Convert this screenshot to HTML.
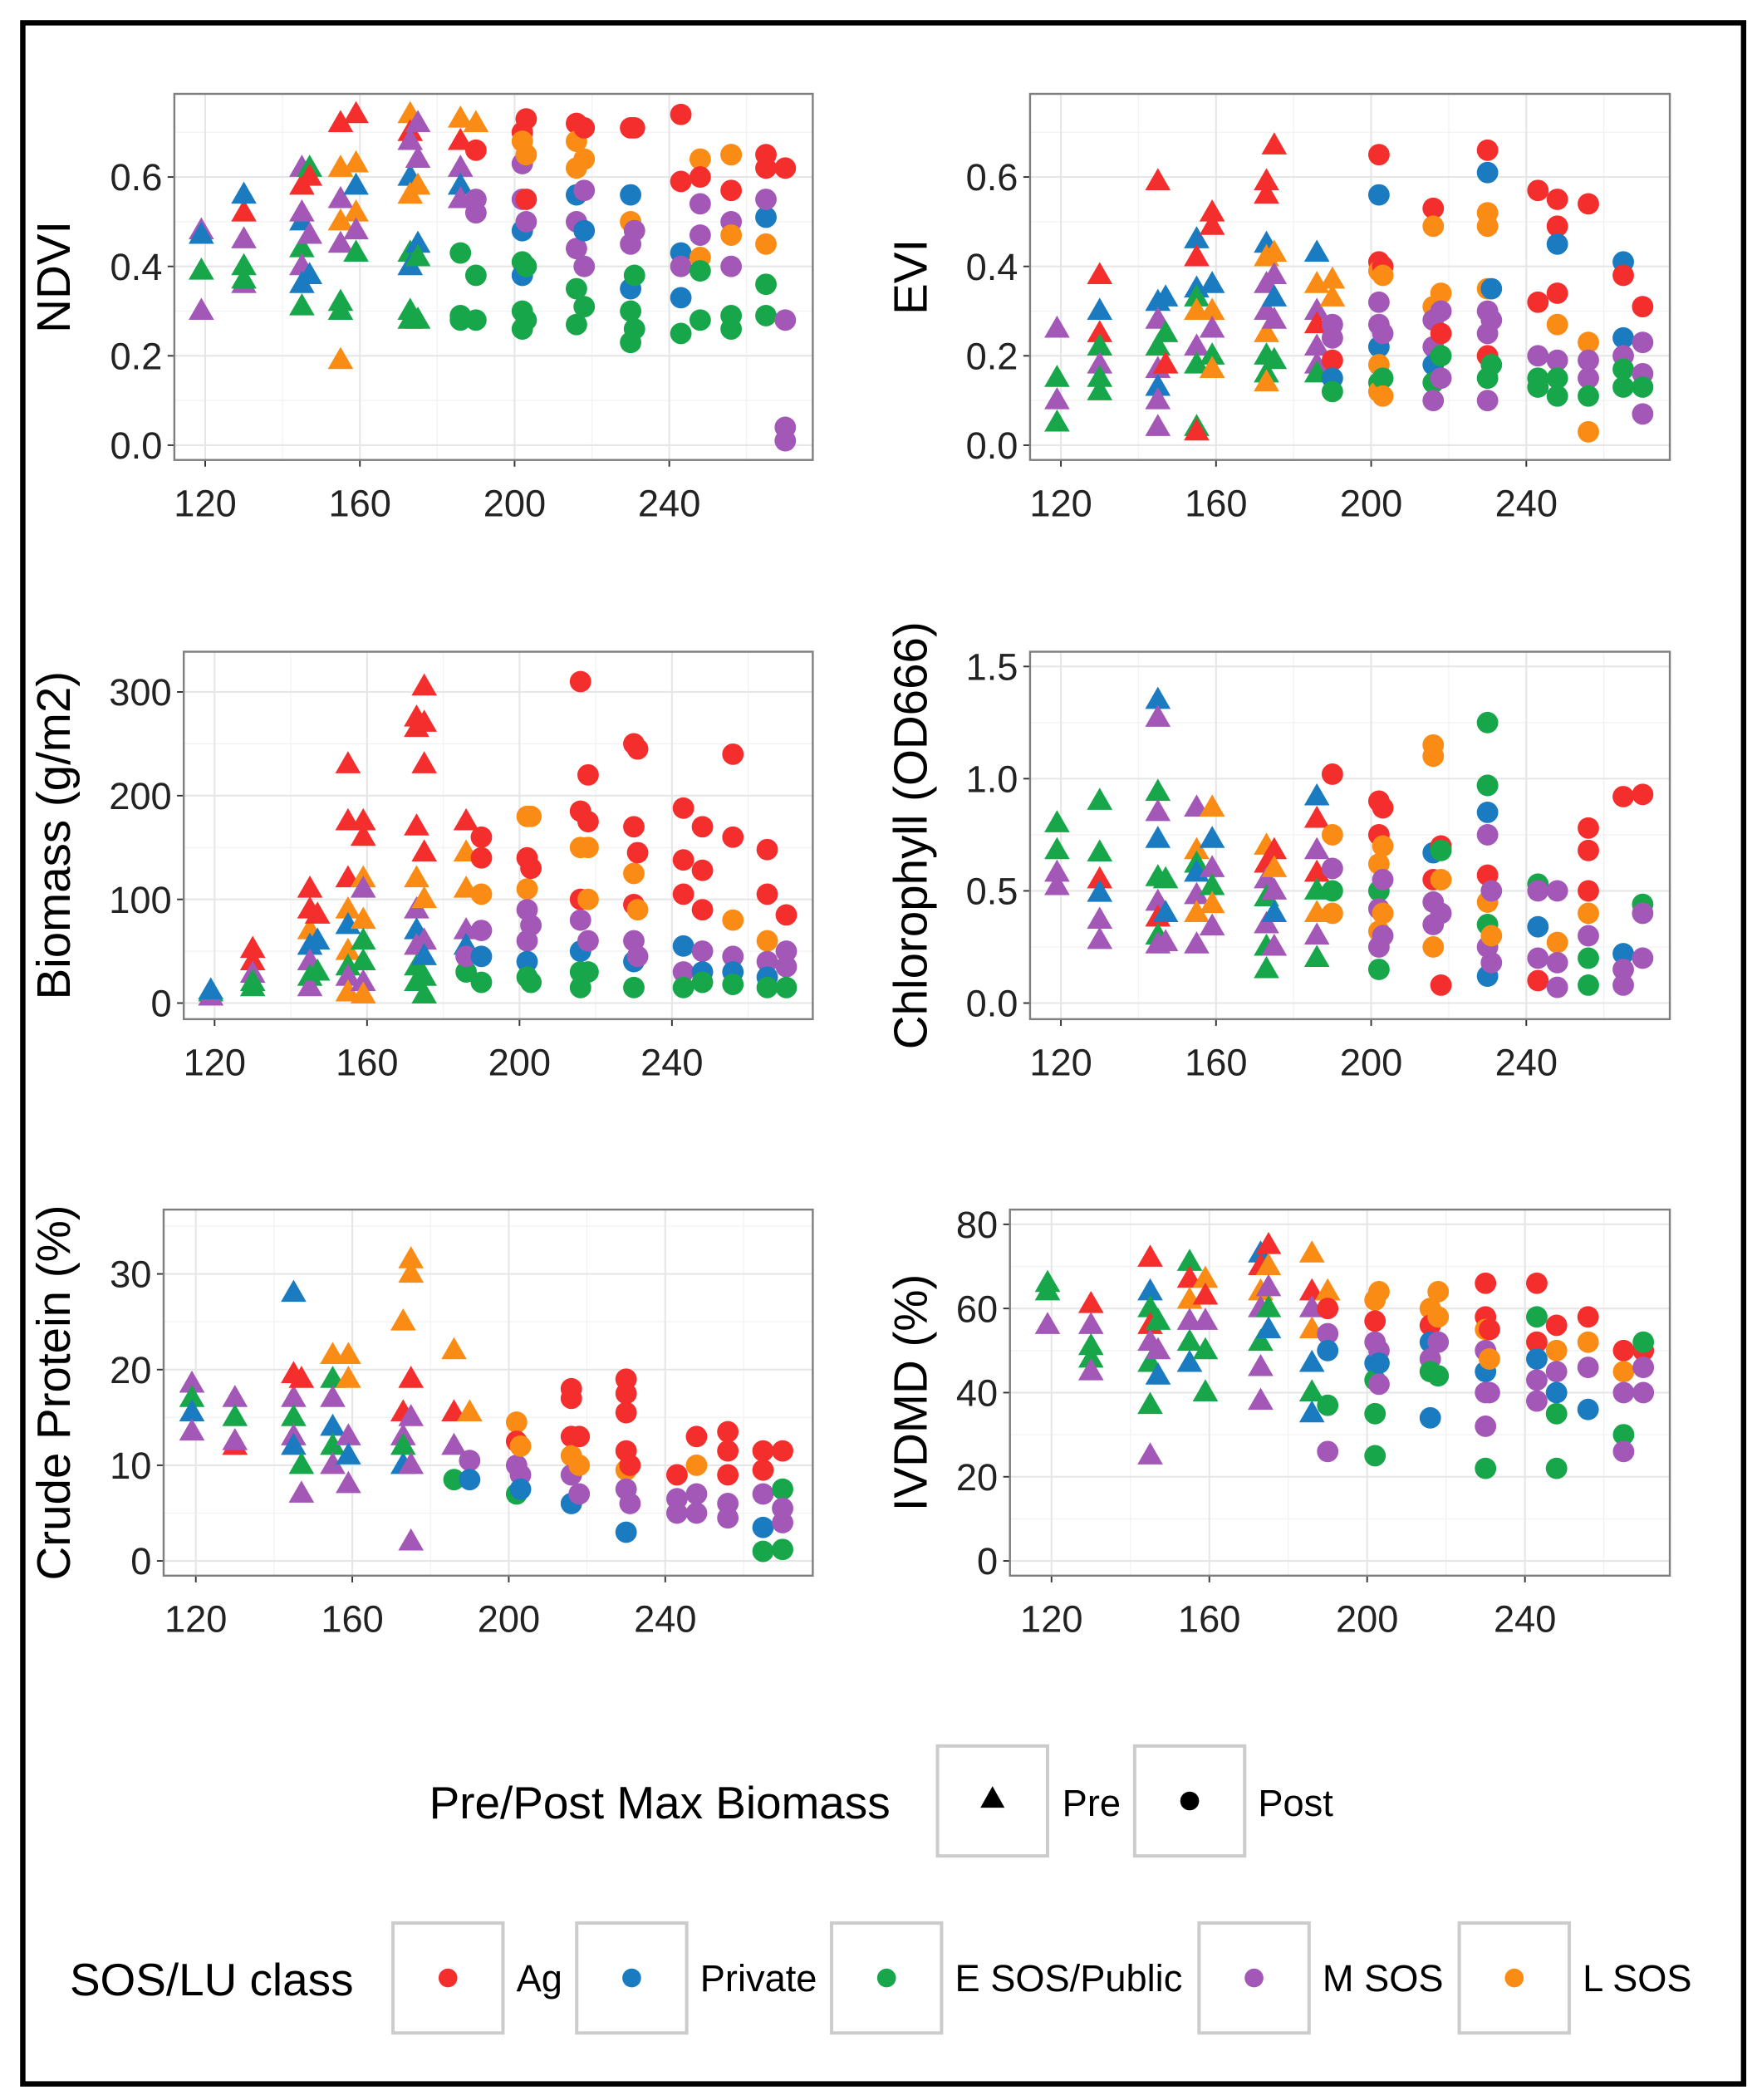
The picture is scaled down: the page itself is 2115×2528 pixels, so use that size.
<!DOCTYPE html>
<html><head><meta charset="utf-8"><style>
html,body{margin:0;padding:0;background:#fff}
svg{display:block}
text{font-family:"Liberation Sans",sans-serif}
</style></head><body>
<svg id="fig" width="2115" height="2528" viewBox="0 0 1310 1566" preserveAspectRatio="none" xmlns="http://www.w3.org/2000/svg">
<rect x="17" y="17" width="1283" height="1537" fill="#fff" stroke="#000" stroke-width="4"/>
<g id="panels"></g>
<g>
<text x="320" y="1356" font-size="34" fill="#000">Pre/Post Max Biomass</text>
<rect x="699" y="1302" width="82" height="82" fill="#fff" stroke="#ccc" stroke-width="2.5"/>
<polygon points="740,1332 749,1348 731,1348" fill="#000"/>
<text x="792" y="1354" font-size="28" fill="#000">Pre</text>
<rect x="846" y="1302" width="82" height="82" fill="#fff" stroke="#ccc" stroke-width="2.5"/>
<circle cx="887" cy="1343" r="7" fill="#000"/>
<text x="938" y="1354" font-size="28" fill="#000">Post</text>
</g>
<g id="classLegend">
<text x="52" y="1488" font-size="34" fill="#000">SOS/LU class</text>
</g>
</svg>
<script>
const classCodes=['r','b','g','m','o'];
const classColors=['#f42d2d','#1b7bc1','#18a64b','#a357b7','#fa8c15'];
const classLabels=['Ag','Private','E SOS/Public','M SOS','L SOS'];
const classBoxX=[293,430,620,894,1088];
const xTicks=[120,160,200,240];
const xTickLabels=['120','160','200','240'];

const ndviPts=[[119,.48,'m','T'],[119,.47,'b','T'],[119,.39,'g','T'],[119,.30,'m','T'],
[130,.52,'r','T'],[130,.56,'b','T'],[130,.46,'m','T'],[130,.40,'g','T'],[130,.36,'m','T'],[130,.37,'g','T'],
[145,.62,'m','T'],[145,.58,'r','T'],[145,.50,'b','T'],[145,.44,'g','T'],[145,.40,'m','T'],[145,.36,'b','T'],[145,.31,'g','T'],[145,.52,'m','T'],
[147,.62,'g','T'],[147,.60,'r','T'],[147,.47,'m','T'],[147,.38,'b','T'],
[155,.72,'r','T'],[155,.62,'o','T'],[155,.55,'m','T'],[155,.50,'o','T'],[155,.32,'g','T'],[155,.30,'g','T'],[155,.19,'o','T'],[155,.45,'m','T'],
[159,.74,'r','T'],[159,.63,'o','T'],[159,.58,'b','T'],[159,.52,'o','T'],[159,.43,'g','T'],[159,.48,'m','T'],
[173,.74,'o','T'],[173,.70,'r','T'],[173,.68,'m','T'],[173,.60,'b','T'],[173,.56,'o','T'],[173,.43,'g','T'],[173,.30,'g','T'],[173,.28,'g','T'],[173,.40,'b','T'],
[175,.72,'m','T'],[175,.64,'m','T'],[175,.58,'o','T'],[175,.45,'b','T'],[175,.42,'g','T'],[175,.28,'g','T'],
[186,.73,'o','T'],[186,.68,'r','T'],[186,.62,'m','T'],[186,.58,'b','T'],[186,.55,'m','T'],[186,.43,'g','C'],[186,.29,'g','C'],[186,.28,'g','C'],
[190,.72,'o','T'],[190,.66,'r','C'],[190,.55,'m','C'],[190,.52,'m','C'],[190,.38,'g','C'],[190,.28,'g','C'],
[202,.70,'r','C'],[202,.68,'o','C'],[202,.63,'m','C'],[202,.55,'m','C'],[202,.48,'b','C'],[202,.41,'g','C'],[202,.38,'b','C'],[202,.30,'g','C'],[202,.26,'g','C'],
[203,.73,'r','C'],[203,.65,'o','C'],[203,.55,'r','C'],[203,.50,'m','C'],[203,.40,'g','C'],[203,.28,'g','C'],
[216,.72,'r','C'],[216,.68,'o','C'],[216,.62,'o','C'],[216,.56,'b','C'],[216,.50,'m','C'],[216,.44,'m','C'],[216,.35,'g','C'],[216,.27,'g','C'],
[218,.71,'r','C'],[218,.64,'o','C'],[218,.57,'m','C'],[218,.48,'b','C'],[218,.40,'m','C'],[218,.31,'g','C'],
[230,.71,'r','C'],[230,.56,'b','C'],[230,.50,'o','C'],[230,.45,'m','C'],[230,.35,'b','C'],[230,.30,'g','C'],[230,.23,'g','C'],
[231,.71,'r','C'],[231,.48,'m','C'],[231,.38,'g','C'],[231,.26,'g','C'],
[243,.74,'r','C'],[243,.59,'r','C'],[243,.43,'b','C'],[243,.40,'m','C'],[243,.33,'b','C'],[243,.25,'g','C'],
[248,.64,'o','C'],[248,.60,'r','C'],[248,.54,'m','C'],[248,.47,'m','C'],[248,.42,'o','C'],[248,.39,'g','C'],[248,.28,'g','C'],
[256,.65,'r','C'],[256,.65,'o','C'],[256,.57,'r','C'],[256,.50,'m','C'],[256,.47,'o','C'],[256,.40,'m','C'],[256,.29,'g','C'],[256,.26,'g','C'],
[265,.65,'r','C'],[265,.62,'r','C'],[265,.51,'b','C'],[265,.55,'m','C'],[265,.45,'o','C'],[265,.36,'g','C'],[265,.29,'g','C'],
[270,.62,'r','C'],[270,.28,'m','C'],[270,.04,'m','C'],[270,.01,'m','C']];

const eviPts=[[119,.26,'m','T'],[119,.15,'g','T'],[119,.10,'m','T'],[119,.05,'g','T'],
[130,.38,'r','T'],[130,.30,'b','T'],[130,.25,'r','T'],[130,.22,'g','T'],[130,.18,'m','T'],[130,.15,'g','T'],[130,.12,'g','T'],
[145,.59,'r','T'],[145,.32,'b','T'],[145,.28,'m','T'],[145,.22,'g','T'],[145,.17,'m','T'],[145,.13,'b','T'],[145,.10,'m','T'],[145,.04,'m','T'],
[147,.33,'b','T'],[147,.25,'g','T'],[147,.18,'r','T'],
[155,.46,'b','T'],[155,.42,'r','T'],[155,.35,'b','T'],[155,.33,'g','T'],[155,.30,'o','T'],[155,.22,'m','T'],[155,.18,'g','T'],[155,.04,'g','T'],[155,.03,'r','T'],
[159,.52,'r','T'],[159,.49,'r','T'],[159,.36,'b','T'],[159,.30,'o','T'],[159,.26,'m','T'],[159,.20,'g','T'],[159,.17,'o','T'],
[173,.59,'r','T'],[173,.56,'r','T'],[173,.45,'b','T'],[173,.42,'o','T'],[173,.36,'m','T'],[173,.30,'m','T'],[173,.25,'o','T'],[173,.20,'g','T'],[173,.16,'g','T'],[173,.14,'o','T'],
[175,.67,'r','T'],[175,.43,'o','T'],[175,.38,'m','T'],[175,.33,'b','T'],[175,.28,'m','T'],[175,.19,'g','T'],
[186,.43,'b','T'],[186,.36,'o','T'],[186,.30,'m','T'],[186,.27,'r','T'],[186,.22,'m','T'],[186,.18,'m','T'],[186,.16,'g','T'],
[190,.37,'o','T'],[190,.33,'o','T'],[190,.27,'m','C'],[190,.24,'m','C'],[190,.19,'r','C'],[190,.15,'b','C'],[190,.12,'g','C'],
[202,.65,'r','C'],[202,.56,'b','C'],[202,.41,'r','C'],[202,.39,'o','C'],[202,.32,'m','C'],[202,.27,'m','C'],[202,.22,'b','C'],[202,.18,'o','C'],[202,.14,'g','C'],[202,.12,'o','C'],
[203,.40,'r','C'],[203,.38,'o','C'],[203,.25,'m','C'],[203,.15,'g','C'],[203,.11,'o','C'],
[216,.53,'r','C'],[216,.49,'o','C'],[216,.31,'o','C'],[216,.28,'m','C'],[216,.22,'m','C'],[216,.18,'b','C'],[216,.14,'g','C'],[216,.10,'m','C'],
[218,.34,'o','C'],[218,.30,'m','C'],[218,.25,'r','C'],[218,.20,'g','C'],[218,.15,'m','C'],
[230,.66,'r','C'],[230,.61,'b','C'],[230,.52,'o','C'],[230,.49,'o','C'],[230,.35,'o','C'],[230,.30,'m','C'],[230,.25,'m','C'],[230,.20,'r','C'],[230,.15,'g','C'],[230,.10,'m','C'],
[231,.35,'b','C'],[231,.28,'m','C'],[231,.18,'g','C'],
[243,.57,'r','C'],[243,.32,'r','C'],[243,.20,'m','C'],[243,.15,'g','C'],[243,.13,'g','C'],
[248,.55,'r','C'],[248,.49,'r','C'],[248,.45,'b','C'],[248,.34,'r','C'],[248,.27,'o','C'],[248,.19,'m','C'],[248,.15,'g','C'],[248,.11,'g','C'],
[256,.54,'r','C'],[256,.23,'o','C'],[256,.19,'m','C'],[256,.15,'m','C'],[256,.11,'g','C'],[256,.03,'o','C'],
[265,.41,'b','C'],[265,.38,'r','C'],[265,.24,'b','C'],[265,.20,'m','C'],[265,.17,'g','C'],[265,.13,'g','C'],
[270,.31,'r','C'],[270,.23,'m','C'],[270,.16,'m','C'],[270,.13,'g','C'],[270,.07,'m','C']];

const bioPts=[[119,10,'g','T'],[119,6,'m','T'],[119,12,'b','T'],
[130,52,'r','T'],[130,40,'r','T'],[130,28,'m','T'],[130,20,'g','T'],[130,15,'g','T'],
[145,110,'r','T'],[145,90,'r','T'],[145,70,'o','T'],[145,55,'b','T'],[145,40,'m','T'],[145,25,'g','T'],[145,15,'m','T'],
[147,85,'r','T'],[147,60,'b','T'],[147,30,'g','T'],
[155,230,'r','T'],[155,175,'r','T'],[155,120,'r','T'],[155,90,'o','T'],[155,75,'b','T'],[155,50,'o','T'],[155,35,'g','T'],[155,25,'m','T'],[155,10,'o','T'],
[159,175,'r','T'],[159,160,'r','T'],[159,120,'o','T'],[159,110,'m','T'],[159,80,'o','T'],[159,60,'g','T'],[159,40,'g','T'],[159,20,'m','T'],[159,8,'o','T'],
[173,275,'r','T'],[173,265,'r','T'],[173,170,'r','T'],[173,120,'o','T'],[173,90,'m','T'],[173,70,'b','T'],[173,55,'m','T'],[173,35,'g','T'],[173,20,'g','T'],
[175,305,'r','T'],[175,270,'r','T'],[175,230,'r','T'],[175,145,'r','T'],[175,100,'o','T'],[175,60,'m','T'],[175,45,'b','T'],[175,25,'g','T'],[175,8,'g','T'],
[186,175,'r','T'],[186,145,'o','T'],[186,110,'o','T'],[186,70,'m','T'],[186,55,'b','T'],[186,30,'g','C'],[186,45,'m','C'],
[190,160,'r','C'],[190,140,'r','C'],[190,105,'o','C'],[190,70,'m','C'],[190,45,'b','C'],[190,20,'g','C'],
[202,180,'o','C'],[202,140,'r','C'],[202,110,'o','C'],[202,90,'m','C'],[202,60,'m','C'],[202,40,'b','C'],[202,25,'g','C'],
[203,180,'o','C'],[203,130,'r','C'],[203,75,'m','C'],[203,20,'g','C'],
[216,310,'r','C'],[216,185,'r','C'],[216,150,'o','C'],[216,100,'r','C'],[216,80,'m','C'],[216,50,'b','C'],[216,30,'g','C'],[216,15,'g','C'],
[218,220,'r','C'],[218,175,'r','C'],[218,150,'o','C'],[218,100,'o','C'],[218,60,'m','C'],[218,30,'g','C'],
[230,250,'r','C'],[230,170,'r','C'],[230,125,'o','C'],[230,95,'r','C'],[230,60,'m','C'],[230,40,'b','C'],[230,15,'g','C'],
[231,245,'r','C'],[231,145,'r','C'],[231,90,'o','C'],[231,45,'m','C'],
[243,188,'r','C'],[243,138,'r','C'],[243,105,'r','C'],[243,55,'b','C'],[243,30,'m','C'],[243,15,'g','C'],
[248,170,'r','C'],[248,128,'r','C'],[248,90,'r','C'],[248,50,'m','C'],[248,30,'b','C'],[248,20,'g','C'],
[256,240,'r','C'],[256,160,'r','C'],[256,80,'o','C'],[256,45,'m','C'],[256,30,'b','C'],[256,18,'g','C'],
[265,148,'r','C'],[265,105,'r','C'],[265,60,'o','C'],[265,40,'m','C'],[265,25,'b','C'],[265,15,'g','C'],
[270,85,'r','C'],[270,50,'m','C'],[270,35,'m','C'],[270,15,'g','C']];

const chlPts=[[119,.80,'g','T'],[119,.68,'g','T'],[119,.58,'m','T'],[119,.52,'m','T'],
[130,.90,'g','T'],[130,.67,'g','T'],[130,.55,'r','T'],[130,.49,'b','T'],[130,.37,'m','T'],[130,.28,'m','T'],
[145,1.35,'b','T'],[145,1.27,'m','T'],[145,.94,'g','T'],[145,.85,'m','T'],[145,.73,'b','T'],[145,.56,'g','T'],[145,.45,'m','T'],[145,.38,'r','T'],[145,.30,'g','T'],[145,.26,'m','T'],
[147,.55,'g','T'],[147,.40,'b','T'],[147,.27,'m','T'],
[155,.87,'m','T'],[155,.68,'o','T'],[155,.62,'g','T'],[155,.58,'b','T'],[155,.48,'m','T'],[155,.40,'o','T'],[155,.26,'m','T'],
[159,.87,'o','T'],[159,.73,'b','T'],[159,.60,'m','T'],[159,.52,'g','T'],[159,.44,'o','T'],[159,.34,'m','T'],
[173,.70,'o','T'],[173,.62,'r','T'],[173,.55,'m','T'],[173,.47,'g','T'],[173,.35,'m','T'],[173,.25,'g','T'],[173,.15,'g','T'],
[175,.68,'r','T'],[175,.60,'o','T'],[175,.50,'m','T'],[175,.40,'b','T'],[175,.25,'m','T'],
[186,.92,'b','T'],[186,.82,'r','T'],[186,.68,'m','T'],[186,.58,'r','T'],[186,.50,'g','T'],[186,.40,'o','T'],[186,.30,'m','T'],[186,.20,'g','T'],
[190,1.02,'r','C'],[190,.75,'o','C'],[190,.60,'m','C'],[190,.50,'g','C'],[190,.40,'o','C'],
[202,.90,'r','C'],[202,.75,'r','C'],[202,.62,'o','C'],[202,.50,'g','C'],[202,.42,'m','C'],[202,.32,'o','C'],[202,.25,'m','C'],[202,.15,'g','C'],
[203,.87,'r','C'],[203,.70,'o','C'],[203,.55,'m','C'],[203,.40,'o','C'],[203,.30,'m','C'],
[216,1.15,'o','C'],[216,1.10,'o','C'],[216,.67,'b','C'],[216,.55,'r','C'],[216,.45,'m','C'],[216,.35,'m','C'],[216,.25,'o','C'],
[218,.70,'r','C'],[218,.68,'g','C'],[218,.55,'o','C'],[218,.40,'m','C'],[218,.08,'r','C'],
[230,1.25,'g','C'],[230,.97,'b','C'],[230,.97,'g','C'],[230,.85,'b','C'],[230,.75,'m','C'],[230,.57,'r','C'],[230,.45,'o','C'],[230,.35,'g','C'],[230,.25,'m','C'],[230,.12,'b','C'],
[231,.50,'m','C'],[231,.30,'o','C'],[231,.18,'m','C'],
[243,.53,'g','C'],[243,.50,'m','C'],[243,.34,'b','C'],[243,.20,'m','C'],[243,.10,'r','C'],
[248,.50,'m','C'],[248,.27,'o','C'],[248,.18,'m','C'],[248,.07,'m','C'],
[256,.78,'r','C'],[256,.68,'r','C'],[256,.50,'r','C'],[256,.40,'o','C'],[256,.30,'m','C'],[256,.20,'g','C'],[256,.08,'g','C'],
[265,.92,'r','C'],[265,.22,'b','C'],[265,.15,'m','C'],[265,.08,'m','C'],
[270,.93,'r','C'],[270,.44,'g','C'],[270,.40,'m','C'],[270,.20,'m','C']];

const cpPts=[[119,18.5,'m','T'],[119,17,'g','T'],[119,15.5,'b','T'],[119,13.5,'m','T'],
[130,17,'m','T'],[130,15,'g','T'],[130,12,'r','T'],[130,12.5,'m','T'],
[145,28,'b','T'],[145,19.5,'r','T'],[145,17,'m','T'],[145,15,'g','T'],[145,13,'m','T'],[145,12,'b','T'],
[147,19,'r','T'],[147,10,'g','T'],[147,7,'m','T'],
[155,21.5,'o','T'],[155,19,'g','T'],[155,17,'m','T'],[155,14,'b','T'],[155,12,'g','T'],[155,10,'m','T'],
[159,21.5,'o','T'],[159,19,'o','T'],[159,13,'m','T'],[159,11,'b','T'],[159,8,'m','T'],
[173,25,'o','T'],[173,15.5,'r','T'],[173,13,'m','T'],[173,10,'b','T'],[173,12,'g','T'],
[175,31.5,'o','T'],[175,30,'o','T'],[175,19,'r','T'],[175,15,'m','T'],[175,10,'m','T'],[175,2,'m','T'],
[186,22,'o','T'],[186,15.5,'r','T'],[186,12,'m','T'],[186,8.5,'g','C'],
[190,15.5,'o','T'],[190,10.5,'m','C'],[190,8.5,'b','C'],
[202,14.5,'o','C'],[202,12.5,'r','C'],[202,10,'m','C'],[202,7,'g','C'],
[203,12,'o','C'],[203,9,'m','C'],[203,7.5,'b','C'],
[216,18,'r','C'],[216,17,'r','C'],[216,13,'r','C'],[216,11,'o','C'],[216,9,'m','C'],[216,6,'b','C'],
[218,13,'r','C'],[218,10,'o','C'],[218,7,'m','C'],
[230,19,'r','C'],[230,17.5,'r','C'],[230,15.5,'r','C'],[230,11.5,'r','C'],[230,9.5,'o','C'],[230,7.5,'m','C'],[230,3,'b','C'],
[231,10,'r','C'],[231,6,'m','C'],
[243,9,'r','C'],[243,6.5,'m','C'],[243,5,'m','C'],
[248,13,'r','C'],[248,10,'o','C'],[248,7,'m','C'],[248,5,'m','C'],
[256,13.5,'r','C'],[256,11.5,'r','C'],[256,9,'r','C'],[256,6,'m','C'],[256,4.5,'m','C'],
[265,11.5,'r','C'],[265,9.5,'r','C'],[265,7,'m','C'],[265,3.5,'b','C'],[265,1,'g','C'],
[270,11.5,'r','C'],[270,7.5,'g','C'],[270,5.5,'m','C'],[270,4,'m','C'],[270,1.2,'g','C']];

const ivdPts=[[119,66,'g','T'],[119,64,'g','T'],[119,56,'m','T'],
[130,61,'r','T'],[130,56,'m','T'],[130,51,'g','T'],[130,48,'g','T'],[130,45,'m','T'],
[145,72,'r','T'],[145,64,'b','T'],[145,60,'g','T'],[145,56,'r','T'],[145,52,'m','T'],[145,47,'g','T'],[145,37,'g','T'],[145,25,'m','T'],
[147,57,'g','T'],[147,50,'m','T'],[147,44,'b','T'],
[155,71,'g','T'],[155,67,'r','T'],[155,62,'o','T'],[155,57,'m','T'],[155,52,'g','T'],[155,47,'b','T'],
[159,67,'o','T'],[159,63,'r','T'],[159,57,'m','T'],[159,50,'g','T'],[159,40,'g','T'],
[173,73,'b','T'],[173,70,'r','T'],[173,64,'o','T'],[173,60,'m','T'],[173,52,'g','T'],[173,46,'m','T'],[173,38,'m','T'],
[175,75,'r','T'],[175,70,'o','T'],[175,65,'m','T'],[175,60,'g','T'],[175,55,'b','T'],
[186,73,'o','T'],[186,64,'r','T'],[186,60,'m','T'],[186,55,'o','T'],[186,47,'b','T'],[186,40,'g','T'],[186,35,'b','T'],
[190,64,'o','T'],[190,60,'r','C'],[190,54,'m','C'],[190,50,'b','C'],[190,37,'g','C'],[190,26,'m','C'],
[202,62,'o','C'],[202,57,'r','C'],[202,52,'m','C'],[202,47,'b','C'],[202,43,'g','C'],[202,35,'g','C'],[202,25,'g','C'],
[203,64,'o','C'],[203,50,'m','C'],[203,47,'b','C'],[203,42,'m','C'],
[216,60,'o','C'],[216,56,'r','C'],[216,52,'b','C'],[216,48,'m','C'],[216,45,'g','C'],[216,34,'b','C'],
[218,64,'o','C'],[218,58,'o','C'],[218,52,'m','C'],[218,44,'g','C'],
[230,66,'r','C'],[230,58,'r','C'],[230,55,'o','C'],[230,50,'m','C'],[230,45,'b','C'],[230,40,'m','C'],[230,32,'m','C'],[230,22,'g','C'],
[231,55,'r','C'],[231,48,'o','C'],[231,40,'m','C'],
[243,66,'r','C'],[243,58,'g','C'],[243,52,'r','C'],[243,48,'b','C'],[243,43,'m','C'],[243,38,'m','C'],
[248,56,'r','C'],[248,50,'o','C'],[248,45,'m','C'],[248,40,'b','C'],[248,35,'g','C'],[248,22,'g','C'],
[256,58,'r','C'],[256,52,'o','C'],[256,46,'m','C'],[256,36,'b','C'],
[265,50,'r','C'],[265,45,'o','C'],[265,40,'m','C'],[265,30,'g','C'],[265,26,'m','C'],
[270,50,'r','C'],[270,52,'g','C'],[270,46,'m','C'],[270,40,'m','C']];

const ndviTicks=[0,0.2,0.4,0.6], ndviTickLabels=['0.0','0.2','0.4','0.6'];
const eviTicks=[0,0.2,0.4,0.6], eviTickLabels=['0.0','0.2','0.4','0.6'];
const bioTicks=[0,100,200,300], bioTickLabels=['0','100','200','300'];
const chlTicks=[0,0.5,1.0,1.5], chlTickLabels=['0.0','0.5','1.0','1.5'];
const cpTicks=[0,10,20,30], cpTickLabels=['0','10','20','30'];
const ivdTicks=[0,20,40,60,80], ivdTickLabels=['0','20','40','60','80'];

const NS='http://www.w3.org/2000/svg';
function mk(tag,attrs,parent){const e=document.createElementNS(NS,tag);for(const k in attrs)e.setAttribute(k,attrs[k]);parent.appendChild(e);return e;}

const panels=[
 {name:'ndvi',title:'NDVI',pts:ndviPts,ticks:ndviTicks,labels:ndviTickLabels,L:130,R:606,T:70,B:343,xA:153,xB:499,yv0:0,yp0:332,yv1:0.6,yp1:132,tx:40},
 {name:'evi',title:'EVI',pts:eviPts,ticks:eviTicks,labels:eviTickLabels,L:768,R:1245,T:70,B:343,xA:791,xB:1138,yv0:0,yp0:332,yv1:0.6,yp1:132,tx:679},
 {name:'biomass',title:'Biomass (g/m2)',pts:bioPts,ticks:bioTicks,labels:bioTickLabels,L:137,R:606,T:486,B:760,xA:160,xB:501,yv0:0,yp0:748,yv1:300,yp1:516,tx:40},
 {name:'chlorophyll',title:'Chlorophyll (OD666)',pts:chlPts,ticks:chlTicks,labels:chlTickLabels,L:768,R:1245,T:486,B:760,xA:791,xB:1138,yv0:0,yp0:748,yv1:1.5,yp1:497,tx:679},
 {name:'crude-protein',title:'Crude Protein (%)',pts:cpPts,ticks:cpTicks,labels:cpTickLabels,L:122,R:606,T:902,B:1175,xA:146,xB:496,yv0:0,yp0:1164,yv1:30,yp1:950,tx:40},
 {name:'ivdmd',title:'IVDMD (%)',pts:ivdPts,ticks:ivdTicks,labels:ivdTickLabels,L:753,R:1245,T:902,B:1175,xA:784,xB:1137,yv0:0,yp0:1164,yv1:80,yp1:913,tx:679}
];
const root=document.getElementById('panels');
panels.forEach(p=>{
 const xs=d=>p.xA+(d-120)*(p.xB-p.xA)/120;
 const ys=v=>p.yp0+(v-p.yv0)*(p.yp1-p.yp0)/(p.yv1-p.yv0);
 const g=mk('g',{},root);
 
 
 const bg=mk('rect',{x:p.L,y:p.T,width:p.R-p.L,height:p.B-p.T,fill:'#fff'},g);
 
 
 for(let i=0;i<=xTicks.length;i++){const d=(i<xTicks.length?xTicks[i]:xTicks[i-1]+40)-20;const x=xs(d);if(x>p.L&&x<p.R){const l=mk('line',{x1:x,x2:x,y1:p.T,y2:p.B,stroke:'#f2f2f2','stroke-width':0.8},g);}}
 const step=p.ticks[1]-p.ticks[0];
 for(let i=0;i<=p.ticks.length;i++){const v=p.ticks[0]-step/2+i*step;const y=ys(v);if(y>p.T&&y<p.B){const l=mk('line',{x1:p.L,x2:p.R,y1:y,y2:y,stroke:'#f2f2f2','stroke-width':0.8},g);}}
 xTicks.forEach((d,i)=>{const x=xs(d);
  const l=mk('line',{x1:x,x2:x,y1:p.T,y2:p.B,stroke:'#e6e6e6','stroke-width':1.3},g);
  const t=mk('line',{x1:x,x2:x,y1:p.B,y2:p.B+5,stroke:'#333','stroke-width':1.2},g);
  const tx=mk('text',{x:x,y:p.B+42,'font-size':28,'text-anchor':'middle',fill:'#222'},g);tx.textContent=xTickLabels[i];});
 p.ticks.forEach((v,i)=>{const y=ys(v);
  const l=mk('line',{x1:p.L,x2:p.R,y1:y,y2:y,stroke:'#e6e6e6','stroke-width':1.3},g);
  const t=mk('line',{x1:p.L-5,x2:p.L,y1:y,y2:y,stroke:'#333','stroke-width':1.2},g);
  const tx=mk('text',{x:p.L-9,y:y+10,'font-size':28,'text-anchor':'end',fill:'#222'},g);tx.textContent=p.labels[i];});
 p.pts.forEach(pt=>{const x=xs(pt[0]),y=ys(pt[1]);const col=classColors[classCodes.indexOf(pt[2])];let m;
  if(pt[3]==='T'){m=mk('polygon',{points:`${x},${y-10} ${x+9.5},${y+6.5} ${x-9.5},${y+6.5}`,fill:col},g);}
  else{m=mk('circle',{cx:x,cy:y,r:8,fill:col},g);}
  
  });
 const br=mk('rect',{x:p.L,y:p.T,width:p.R-p.L,height:p.B-p.T,fill:'none',stroke:'#7f7f7f','stroke-width':1.5},g);
 
 
 const cy=(p.T+p.B)/2;
 const at=mk('text',{x:p.tx,y:cy,'font-size':35,'text-anchor':'middle',fill:'#000',transform:`rotate(-90 ${p.tx} ${cy})`,dy:12},g);
 at.textContent=p.title;
 
 
});
const cl=document.getElementById('classLegend');
classLabels.forEach((lab,i)=>{const bx=classBoxX[i];
 const r=mk('rect',{x:bx,y:1434,width:82,height:82,fill:'#fff',stroke:'#ccc','stroke-width':2.5},cl);
 
 
 const c=mk('circle',{cx:bx+41,cy:1475,r:7,fill:classColors[i]},cl);
 
 
 const t=mk('text',{x:bx+92,y:1485,'font-size':28,fill:'#000'},cl);
 t.textContent=lab;
 
 
});
</script>
</body></html>
